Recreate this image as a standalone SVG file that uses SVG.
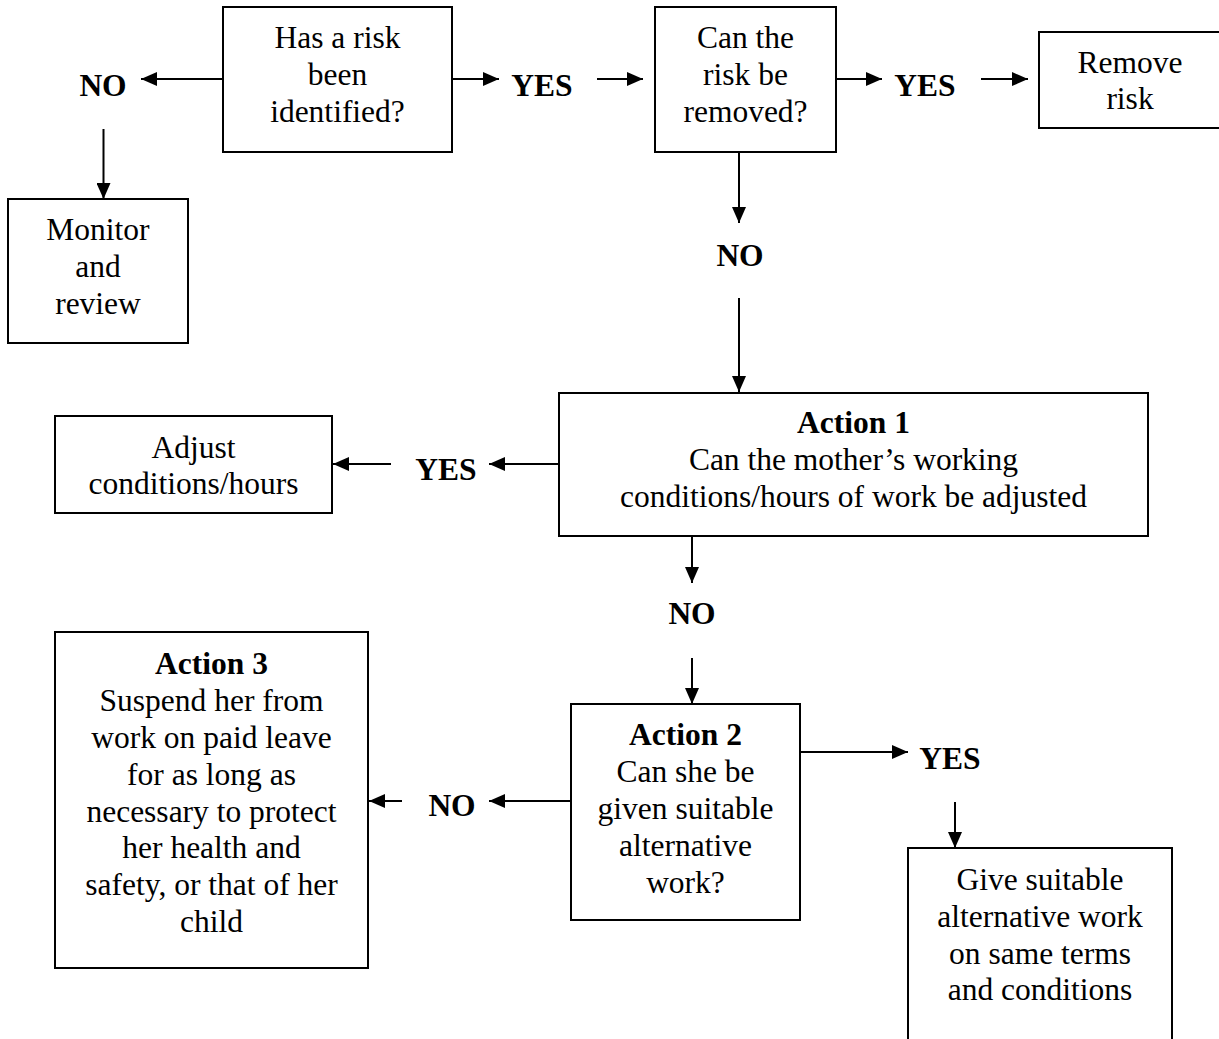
<svg xmlns="http://www.w3.org/2000/svg" width="1219" height="1039" viewBox="0 0 1219 1039">
<style>
  .box { fill: #fff; stroke: #000; stroke-width: 2; }
  .t { font-family: 'Liberation Serif', 'Times New Roman', Times, 'DejaVu Serif', serif; font-size: 31.5px; fill: #000; text-anchor: middle; }
  .b { font-weight: bold; }
  .c line { stroke: #000; stroke-width: 2; marker-end: url(#ah); }
</style>
<defs>
  <marker id="ah" markerUnits="userSpaceOnUse" markerWidth="16" markerHeight="14" refX="16" refY="7" orient="auto">
    <path d="M0,0 L16,7 L0,14 z" fill="#000"/>
  </marker>
</defs>
<rect width="1219" height="1039" fill="#fff"/>
<g id="connectors" class="c">
  <line x1="223" y1="79" x2="141" y2="79"/>
  <line x1="103.5" y1="129" x2="103.5" y2="199"/>
  <line x1="452" y1="79" x2="499" y2="79"/>
  <line x1="597" y1="79" x2="643" y2="79"/>
  <line x1="836" y1="79" x2="882" y2="79"/>
  <line x1="981" y1="79" x2="1028" y2="79"/>
  <line x1="739" y1="152" x2="739" y2="223"/>
  <line x1="739" y1="298" x2="739" y2="392"/>
  <line x1="559" y1="464" x2="489" y2="464"/>
  <line x1="391" y1="464" x2="333" y2="464"/>
  <line x1="692" y1="536" x2="692" y2="583"/>
  <line x1="692" y1="658" x2="692" y2="704"/>
  <line x1="800" y1="752" x2="908" y2="752"/>
  <line x1="955" y1="802" x2="955" y2="848"/>
  <line x1="571" y1="801" x2="489" y2="801"/>
  <line x1="402" y1="801" x2="369" y2="801"/>
</g>
<g id="labels">
  <text class="t b" x="103" y="95.5">NO</text>
  <text class="t b" x="542" y="95.5">YES</text>
  <text class="t b" x="925" y="95.5">YES</text>
  <text class="t b" x="740" y="265.5">NO</text>
  <text class="t b" x="446" y="479.5">YES</text>
  <text class="t b" x="692" y="623.5">NO</text>
  <text class="t b" x="950" y="768.5">YES</text>
  <text class="t b" x="452" y="815.5">NO</text>
</g>
<g id="risk-identified">
  <rect class="box" x="223" y="7" width="229" height="145"/>
  <text class="t" x="337.5" y="48">Has a risk</text>
  <text class="t" x="337.5" y="85">been</text>
  <text class="t" x="337.5" y="122">identified?</text>
</g>
<g id="monitor">
  <rect class="box" x="8" y="199" width="180" height="144"/>
  <text class="t" x="98" y="240">Monitor</text>
  <text class="t" x="98" y="277">and</text>
  <text class="t" x="98" y="314">review</text>
</g>
<g id="risk-removed">
  <rect class="box" x="655" y="7" width="181" height="145"/>
  <text class="t" x="745.5" y="48">Can the</text>
  <text class="t" x="745.5" y="85">risk be</text>
  <text class="t" x="745.5" y="122">removed?</text>
</g>
<g id="remove-risk">
  <rect class="box" x="1039" y="32" width="190" height="96"/>
  <text class="t" x="1130" y="73">Remove</text>
  <text class="t" x="1130" y="109">risk</text>
</g>
<g id="action1">
  <rect class="box" x="559" y="393" width="589" height="143"/>
  <text class="t b" x="853.5" y="433">Action 1</text>
  <text class="t" x="853.5" y="470">Can the mother’s working</text>
  <text class="t" x="853.5" y="507">conditions/hours of work be adjusted</text>
</g>
<g id="adjust">
  <rect class="box" x="55" y="416" width="277" height="97"/>
  <text class="t" x="193.5" y="458">Adjust</text>
  <text class="t" x="193.5" y="494">conditions/hours</text>
</g>
<g id="action2">
  <rect class="box" x="571" y="704" width="229" height="216"/>
  <text class="t b" x="685.5" y="745">Action 2</text>
  <text class="t" x="685.5" y="782">Can she be</text>
  <text class="t" x="685.5" y="819">given suitable</text>
  <text class="t" x="685.5" y="856">alternative</text>
  <text class="t" x="685.5" y="893">work?</text>
</g>
<g id="action3">
  <rect class="box" x="55" y="632" width="313" height="336"/>
  <text class="t b" x="211.5" y="674">Action 3</text>
  <text class="t" x="211.5" y="711">Suspend her from</text>
  <text class="t" x="211.5" y="748">work on paid leave</text>
  <text class="t" x="211.5" y="785">for as long as</text>
  <text class="t" x="211.5" y="822">necessary to protect</text>
  <text class="t" x="211.5" y="858">her health and</text>
  <text class="t" x="211.5" y="895">safety, or that of her</text>
  <text class="t" x="211.5" y="932">child</text>
</g>
<g id="give-work">
  <rect class="box" x="908" y="848" width="264" height="200"/>
  <text class="t" x="1040" y="890">Give suitable</text>
  <text class="t" x="1040" y="927">alternative work</text>
  <text class="t" x="1040" y="964">on same terms</text>
  <text class="t" x="1040" y="1000">and conditions</text>
</g>
</svg>
